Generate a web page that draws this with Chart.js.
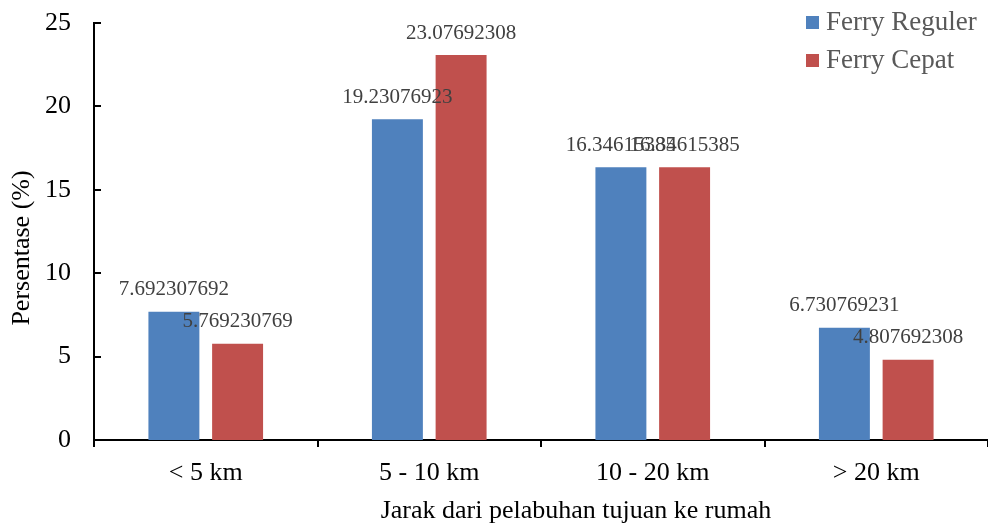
<!DOCTYPE html>
<html>
<head>
<meta charset="utf-8">
<script src="https://cdn.jsdelivr.net/npm/chart.js@4"></script>
<style>
  html, body { margin: 0; padding: 0; background: #fff; }
  #wrap { width: 988px; height: 524px; }
</style>
</head>
<body>
<div id="wrap"><canvas id="jarakChart"></canvas></div>
<script>
// Categories and series values
const categories = ["< 5 km", "5 - 10 km", "10 - 20 km", "> 20 km"];
const ferryReguler = [7.692307692, 19.23076923, 16.34615385, 6.730769231];
const ferryCepat = [5.769230769, 23.07692308, 16.34615385, 4.807692308];
const seriesNames = ["Ferry Reguler", "Ferry Cepat"];
const yTicks = [0, 5, 10, 15, 20, 25];

const FONT = "'Liberation Serif', 'Times New Roman', serif";

// draws value labels, inner y ticks, legend and axis titles
const extrasPlugin = {
    id: 'extras',
    afterDatasetsDraw(chart) {
        const ctx = chart.ctx;
        ctx.save();
        ctx.font = "21px " + FONT;
        ctx.fillStyle = '#404040';
        ctx.textAlign = 'center';
        ctx.textBaseline = 'middle';
        chart.data.datasets.forEach((ds, i) => {
            chart.getDatasetMeta(i).data.forEach((bar, j) => {
                ctx.fillText(String(ds.data[j]), bar.x, bar.y - 22);
            });
        });
        ctx.restore();
    },
    afterDraw(chart) {
        const ctx = chart.ctx;
        const yScale = chart.scales.y;
        const area = chart.chartArea;
        ctx.save();

        // y ticks pointing into the plot
        ctx.strokeStyle = '#000';
        ctx.lineWidth = 2;
        yTicks.forEach(v => {
            const py = Math.round(yScale.getPixelForValue(v));
            ctx.beginPath();
            ctx.moveTo(area.left, py);
            ctx.lineTo(area.left + 7, py);
            ctx.stroke();
        });

        // legend
        ctx.font = "27px " + FONT;
        ctx.textAlign = 'left';
        ctx.textBaseline = 'middle';
        chart.data.datasets.forEach((ds, i) => {
            const y = 23 + i * 38;
            ctx.fillStyle = ds.backgroundColor;
            ctx.fillRect(806, y - 7, 13, 13);
            ctx.fillStyle = '#595959';
            ctx.fillText(ds.label, 826, y);
        });

        // axis titles
        ctx.font = "26px " + FONT;
        ctx.fillStyle = '#000';
        ctx.textAlign = 'center';
        ctx.fillText('Jarak dari pelabuhan tujuan ke rumah', 576, 511);
        ctx.translate(22, 248);
        ctx.rotate(-Math.PI / 2);
        ctx.fillText('Persentase (%)', 0, 0);
        ctx.restore();
    }
};

const ctx = document.getElementById('jarakChart').getContext('2d');
new Chart(ctx, {
    type: 'bar',
    data: {
        labels: categories,
        datasets: [{
            label: seriesNames[0],
            data: ferryReguler,
            backgroundColor: '#4F81BD',
            categoryPercentage: 0.57,
            barPercentage: 0.8
        }, {
            label: seriesNames[1],
            data: ferryCepat,
            backgroundColor: '#C0504D',
            categoryPercentage: 0.57,
            barPercentage: 0.8
        }]
    },
    options: {
        responsive: true,
        maintainAspectRatio: false,
        animation: false,
        layout: { padding: { top: 23, right: -4, left: 0, bottom: 0 } },
        plugins: {
            legend: { display: false },
            tooltip: { enabled: false }
        },
        scales: {
            x: {
                grid: {
                    display: true,
                    drawOnChartArea: false,
                    drawTicks: true,
                    tickLength: 7,
                    color: '#000',
                    lineWidth: 2
                },
                border: { display: true, color: '#000', width: 2 },
                ticks: {
                    color: '#000',
                    padding: 11,
                    font: { family: FONT, size: 26 }
                },
                afterFit(scale) {
                    scale.height = 84;
                    scale.paddingLeft = 0;
                    scale.paddingRight = 0;
                }
            },
            y: {
                min: 0,
                max: 25,
                afterBuildTicks(scale) {
                    scale.ticks = yTicks.map(v => ({ value: v }));
                },
                grid: { display: false, drawTicks: false },
                border: { display: true, color: '#000', width: 2 },
                ticks: {
                    color: '#000',
                    padding: 23,
                    font: { family: FONT, size: 26 }
                },
                afterFit(scale) {
                    scale.width = 94;
                    scale.paddingTop = 0;
                    scale.paddingBottom = 0;
                }
            }
        }
    },
    plugins: [extrasPlugin]
});
</script>
</body>
</html>
